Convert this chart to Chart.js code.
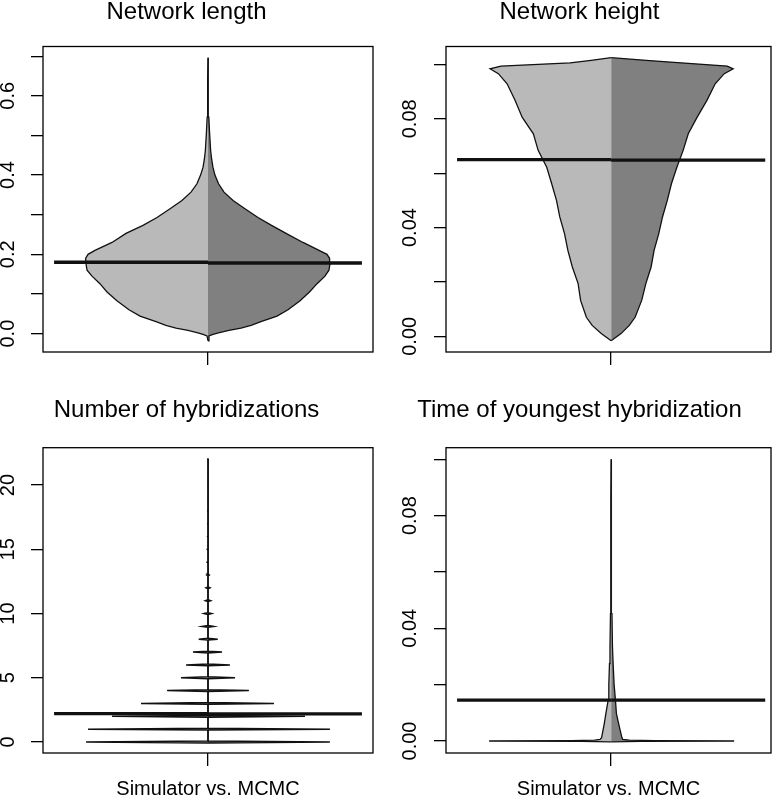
<!DOCTYPE html>
<html lang="en">
<head>
<meta charset="UTF-8">
<title>Simulator vs. MCMC</title>
<script src="https://cdn.jsdelivr.net/npm/chart.js@4"></script>
<style>
  html, body { margin: 0; padding: 0; background: #fff; overflow: hidden; }
  .page { position: relative; width: 777px; height: 798px; overflow: hidden; }
  .page canvas { position: absolute; }
</style>
</head>
<body>
<div class="page">
  <canvas id="lenChart" width="388" height="390" style="left:0;top:-10px"></canvas>
  <canvas id="heightChart" width="389" height="390" style="left:388px;top:-10px"></canvas>
  <canvas id="hybChart" width="388" height="440" style="left:0;top:370px"></canvas>
  <canvas id="youngChart" width="389" height="440" style="left:388px;top:370px"></canvas>
</div>

<script>
// --- data (half-widths are bean widths in x-axis units) ---

// Network length
const lenY = [-0.018, -0.006, -0.002, 0.002, 0.008, 0.014, 0.021, 0.03, 0.044, 0.06, 0.083, 0.105, 0.126, 0.145, 0.16, 0.175, 0.19, 0.2, 0.21, 0.23, 0.253, 0.273, 0.293, 0.315, 0.336, 0.357, 0.378, 0.40, 0.42, 0.44, 0.462, 0.504, 0.546, 0.6, 0.65, 0.696];
const lenSim = [0, 0.006, 0.03, 0.061, 0.121, 0.194, 0.255, 0.315, 0.412, 0.479, 0.552, 0.612, 0.655, 0.703, 0.733, 0.739, 0.742, 0.727, 0.685, 0.582, 0.497, 0.394, 0.309, 0.23, 0.158, 0.103, 0.067, 0.045, 0.03, 0.022, 0.016, 0.01, 0.005, 0.002, 0.002, 0];
const lenMcmc = [0, 0.006, 0.03, 0.064, 0.127, 0.2, 0.261, 0.321, 0.418, 0.485, 0.558, 0.615, 0.661, 0.709, 0.733, 0.739, 0.737, 0.721, 0.673, 0.576, 0.473, 0.385, 0.303, 0.224, 0.152, 0.097, 0.064, 0.042, 0.03, 0.022, 0.016, 0.01, 0.005, 0.002, 0.002, 0];
const lenMean = [0.180, 0.178];
const lenTicks = [0, 0.1, 0.2, 0.3, 0.4, 0.5, 0.6, 0.7];
const lenLabels = ['0.0', '', '0.2', '', '0.4', '', '0.6', ''];

// Network height
const htY = [-0.0016, 0.001, 0.004, 0.007, 0.0132, 0.0194, 0.0255, 0.0316, 0.0377, 0.0439, 0.05, 0.0561, 0.0622, 0.0684, 0.0745, 0.0806, 0.0868, 0.0929, 0.0966, 0.0984, 0.0994, 0.1006, 0.1015, 0.1025];
const htSim = [0, 0.06, 0.115, 0.15, 0.185, 0.2, 0.235, 0.262, 0.282, 0.311, 0.331, 0.36, 0.39, 0.442, 0.471, 0.539, 0.582, 0.630, 0.683, 0.733, 0.667, 0.248, 0.121, 0];
const htMcmc = [0, 0.06, 0.11, 0.145, 0.185, 0.21, 0.242, 0.26, 0.288, 0.311, 0.34, 0.365, 0.398, 0.436, 0.467, 0.521, 0.580, 0.630, 0.685, 0.739, 0.703, 0.424, 0.212, 0];
const htMean = [0.0650, 0.0648];
const htTicks = [0, 0.02, 0.04, 0.06, 0.08, 0.10];
const htLabels = ['0.00', '', '0.04', '', '0.08', ''];

// Number of hybridizations (discrete counts)
const hybCounts = [0, 1, 2, 3, 4, 5, 6, 7, 8, 9, 10, 11, 12, 13, 14, 15, 16, 17, 18, 19, 20, 21, 22];
const hybSim = [0.739, 0.727, 0.582, 0.406, 0.248, 0.164, 0.133, 0.091, 0.056, 0.036, 0.024, 0.016, 0.012, 0.008, 0.006, 0.005, 0.003, 0.002, 0.002, 0.001, 0.001, 0.001, 0.001];
const hybMcmc = [0.739, 0.739, 0.588, 0.400, 0.248, 0.164, 0.133, 0.085, 0.059, 0.035, 0.022, 0.016, 0.012, 0.008, 0.006, 0.005, 0.003, 0.002, 0.002, 0.001, 0.001, 0.001, 0.001];
const hybMean = [2.21, 2.19];
const hybTicks = [0, 5, 10, 15, 20];
const hybLabels = ['0', '5', '10', '15', '20'];

// Time of youngest hybridization
const yngY = [-0.0003, -0.0001, 0, 0.0001, 0.0003, 0.0006, 0.0012, 0.003, 0.006, 0.0097, 0.0145, 0.02, 0.0275, 0.0334, 0.0452, 0.057, 0.069, 0.085, 0.1];
const yngSim = [0, 0.18, 0.739, 0.24, 0.10, 0.067, 0.058, 0.052, 0.042, 0.032, 0.018, 0.014, 0.010, 0.007, 0.004, 0.003, 0.002, 0.001, 0];
const yngMcmc = [0, 0.18, 0.745, 0.26, 0.11, 0.070, 0.065, 0.058, 0.046, 0.032, 0.026, 0.018, 0.012, 0.008, 0.005, 0.003, 0.002, 0.001, 0];
const yngMean = [0.0145, 0.0145];
const yngTicks = [0, 0.02, 0.04, 0.06, 0.08, 0.10];
const yngLabels = ['0.00', '', '0.04', '', '0.08', ''];

const xLabel = 'Simulator vs. MCMC';

// --- styling ---
const LIGHT = '#b9b9b9';
const DARK = '#808080';
const INK = '#000';
const meanReach = 0.933;  // half-length of the mean lines
const spike = 0.07;       // half-thickness of a discrete bean line

Chart.defaults.font.family = "'Liberation Sans', Arial, Helvetica, sans-serif";
Chart.defaults.color = INK;

// half bean: side -1 = left (simulator), +1 = right (MCMC)
function half(ys, widths, side) {
    return ys.map((y, i) => ({ x: side * widths[i], y: y }));
}

function spikes(counts, widths, side) {
    const pts = [];
    counts.forEach((k, i) => {
        pts.push({ x: 0, y: k - spike }, { x: side * widths[i], y: k }, { x: 0, y: k + spike });
    });
    return pts;
}

function meanLine(side, value) {
    return {
        data: [{ x: side < 0 ? -meanReach : 0, y: value }, { x: side < 0 ? 0 : meanReach, y: value }],
        borderColor: '#111', borderWidth: 3.4, pointRadius: 0, fill: false
    };
}

function beanSide(points, color, width) {
    return {
        data: points, fill: 'origin', backgroundColor: color,
        borderColor: '#111', borderWidth: width, pointRadius: 0
    };
}

const boxPlugin = {
    id: 'box',
    afterDraw(chart) {
        const { ctx, chartArea: a } = chart;
        ctx.save();
        ctx.strokeStyle = INK;
        ctx.lineWidth = 1.3;
        ctx.strokeRect(a.left, a.top, a.right - a.left, a.bottom - a.top);
        ctx.restore();
    }
};

function makePanel(id, p) {
    new Chart(document.getElementById(id), {
        type: 'line',
        data: {
            datasets: [
                meanLine(-1, p.mean[0]),
                meanLine(1, p.mean[1]),
                beanSide(p.left, LIGHT, p.edge),
                beanSide(p.right, DARK, p.edge)
            ]
        },
        options: {
            indexAxis: 'y',
            responsive: false,
            animation: false,
            events: [],
            layout: { padding: { left: 0, top: 0, right: p.padRight, bottom: 0 } },
            plugins: {
                legend: { display: false },
                tooltip: { enabled: false },
                title: {
                    display: true,
                    text: p.title,
                    color: INK,
                    font: { size: 24, weight: 'normal', lineHeight: 1 },
                    padding: { top: p.titleTop, bottom: p.titleBottom }
                }
            },
            scales: {
                x: {
                    type: 'linear',
                    min: p.xMin, max: p.xMax,
                    afterFit: s => { s.height = p.xHeight; },
                    afterBuildTicks: s => { s.ticks = [{ value: 0 }]; },
                    ticks: { callback: () => '' },
                    grid: { drawOnChartArea: false, tickLength: 13, color: INK, lineWidth: 1.3 },
                    border: { display: false },
                    title: {
                        display: !!p.xTitle, text: p.xTitle, color: INK,
                        font: { size: 20 }, padding: { top: 0, bottom: 9 }
                    }
                },
                y: {
                    type: 'linear',
                    min: p.yMin, max: p.yMax,
                    afterFit: s => { s.width = p.yWidth; },
                    afterBuildTicks: s => { s.ticks = p.ticks.map(v => ({ value: v })); },
                    ticks: {
                        minRotation: 90, maxRotation: 90, crossAlign: 'center',
                        padding: p.labelPad, color: INK, font: { size: 20 },
                        callback: (v, i) => p.labels[i]
                    },
                    grid: { drawOnChartArea: false, tickLength: 12, color: INK, lineWidth: 1.3 },
                    border: { display: false }
                }
            }
        },
        plugins: [boxPlugin]
    });
}

document.addEventListener('DOMContentLoaded', function () {
    const top = { titleTop: 10, titleBottom: 22.5, xHeight: 28 };
    const bottom = { titleTop: 28.5, titleBottom: 25.2, xHeight: 57, xTitle: xLabel };
    const leftCol = { xMin: -1, xMax: 1, yWidth: 43, padRight: 15 };
    const rightCol = { xMin: -1, xMax: 0.968, yWidth: 58, padRight: 6 };

    makePanel('lenChart', Object.assign({}, top, leftCol, {
        title: 'Network length', yMin: -0.0464, yMax: 0.7244,
        ticks: lenTicks, labels: lenLabels, labelPad: 9, edge: 1.3,
        left: half(lenY, lenSim, -1), right: half(lenY, lenMcmc, 1), mean: lenMean
    }));

    makePanel('heightChart', Object.assign({}, top, rightCol, {
        title: 'Network height', yMin: -0.00577, yMax: 0.1066,
        ticks: htTicks, labels: htLabels, labelPad: 4, edge: 1.3,
        left: half(htY, htSim, -1), right: half(htY, htMcmc, 1), mean: htMean
    }));

    makePanel('hybChart', Object.assign({}, bottom, leftCol, {
        title: 'Number of hybridizations', yMin: -0.857, yMax: 22.91,
        ticks: hybTicks, labels: hybLabels, labelPad: 11.5, edge: 1.5,
        left: spikes(hybCounts, hybSim, -1), right: spikes(hybCounts, hybMcmc, 1), mean: hybMean
    }));

    makePanel('youngChart', Object.assign({}, bottom, rightCol, {
        title: 'Time of youngest hybridization', yMin: -0.00426, yMax: 0.1041,
        ticks: yngTicks, labels: yngLabels, labelPad: 4, edge: 1.3,
        left: half(yngY, yngSim, -1), right: half(yngY, yngMcmc, 1), mean: yngMean
    }));
});
</script>
</body>
</html>
